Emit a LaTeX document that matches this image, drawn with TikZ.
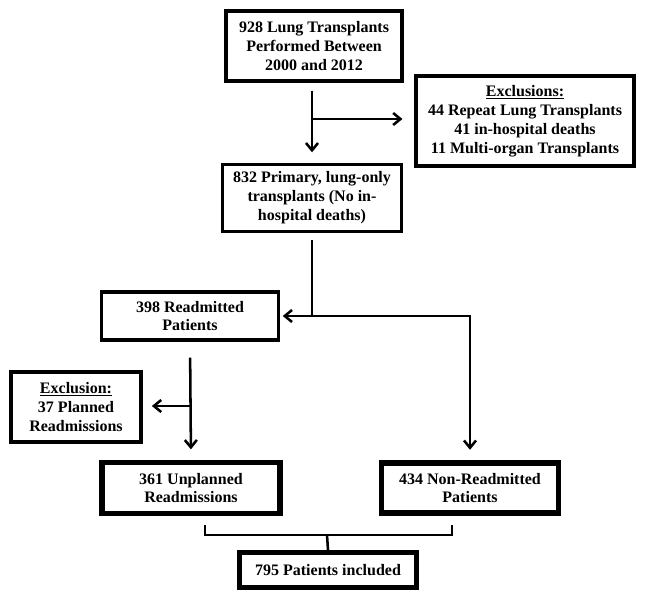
\documentclass[tikz,border=0pt]{standalone}
\usepackage{fontspec}
\setmainfont{Liberation Serif}
\usepackage{tikz}
\usetikzlibrary{positioning, calc, arrows.meta}

\begin{document}
\begin{tikzpicture}[x=0.75pt, y=-0.75pt, >={Straight Barb[length=5.5pt, width=9pt]},
    box/.style = {draw, line width=2.3pt, align=center, inner sep=2pt, font=\bfseries\fontsize{12}{14.2}\selectfont},
    bigbox/.style = {box, line width=3.8pt},
    link/.style = {line width=1.9pt}]

    \useasboundingbox (0,0) rectangle (645,599);

    \node[box, minimum width=132pt, minimum height=52.5pt] (top) at (314,46) {928 Lung Transplants\\Performed Between\\2000 and 2012};
    \node[box, minimum width=163.5pt, minimum height=67.5pt] (excl) at (525,121) {\underline{Exclusions:}\\44 Repeat Lung Transplants\\41 in-hospital deaths\\11 Multi-organ Transplants};
    \node[box, minimum width=134.25pt, minimum height=50.25pt] (prim) at (312,198) {832 Primary, lung-only\\transplants (No in-\\hospital deaths)};
    \node[box, minimum width=132.75pt, minimum height=36pt] (readm) at (190,316) {398 Readmitted\\Patients};
    \node[box, minimum width=97.5pt, minimum height=52.5pt] (excl2) at (76,407) {\underline{Exclusion:}\\37 Planned\\Readmissions};
    \node[bigbox, minimum width=133.5pt, minimum height=38.25pt] (unpl) at (191,488) {361 Unplanned\\Readmissions};
    \node[bigbox, minimum width=132.75pt, minimum height=37.5pt] (nonr) at (470,488) {434 Non-Readmitted\\Patients};
    \node[bigbox, minimum width=132.75pt, minimum height=26.25pt] (incl) at (328,570) {795 Patients included};

    \coordinate (b1) at (312,119);
    \coordinate (b2) at (312,316);
    \coordinate (b3) at (190,406);
    \coordinate (bl) at (205,525);
    \coordinate (br) at (452,525);
    \coordinate (bm) at (327,535);

    \draw[link, ->, shorten <=6pt, shorten >=8pt] (top.south -| b1) -- (prim.north -| b1);
    \draw[link, ->, shorten >=9pt] (b1) -- (b1 -| excl.west);
    \draw[link, shorten <=5pt] (prim.south -| b2) -- (b2);
    \draw[link, ->, shorten >=2pt] (b2) -- (readm.east);
    \draw[link, ->, shorten >=8pt] (b2) -| (nonr.north);
    \draw[link, ->, shorten <=12pt, shorten >=8pt] (readm.south) -- (unpl.north);
    \draw[link, ->, shorten >=7pt] (b3) -- (b3 -| excl2.east);
    \draw[link] (bl) |- (bm) -| (br);
    \draw[link] (bm) -- (incl.north);
\end{tikzpicture}
\end{document}
